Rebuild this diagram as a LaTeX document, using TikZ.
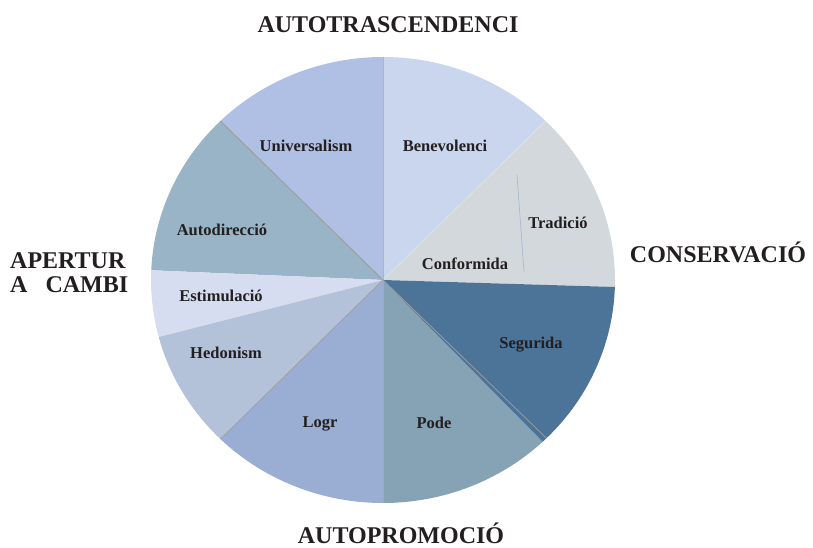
\documentclass[tikz,border=0pt]{standalone}
\usepackage{fontspec}
\setmainfont{Liberation Serif}
\definecolor{cUni}{RGB}{175,192,228}
\definecolor{cBen}{RGB}{201,214,238}
\definecolor{cTra}{RGB}{211,216,220}
\definecolor{cSeg}{RGB}{76,115,152}
\definecolor{cPod}{RGB}{133,163,181}
\definecolor{cLog}{RGB}{154,173,210}
\definecolor{cHed}{RGB}{179,193,217}
\definecolor{cEst}{RGB}{214,221,240}
\definecolor{cAut}{RGB}{152,180,198}
\definecolor{cTxt}{RGB}{35,31,32}
\definecolor{cThin}{RGB}{165,182,210}
\newcommand\mypieslice[3]{\fill[#3] (c) -- ++(#1:232 and 223) arc[start angle=#1, end angle=#2, x radius=232, y radius=223] -- cycle;}
\begin{document}
\begin{tikzpicture}[x=1pt,y=1pt,
  sep/.style={draw=gray!75, line width=0.7pt},
  lightsep/.style={draw=white!80!gray, line width=0.6pt},
  lab/.style={font=\fontsize{16.5}{18}\selectfont\bfseries, text=cTxt, inner sep=0pt, anchor=base},
  head/.style={font=\fontsize{24}{26}\selectfont\bfseries, text=cTxt, inner sep=0pt, anchor=base}]
\useasboundingbox (0,0) rectangle (813,547);
\coordinate (c) at (383,267);
\mypieslice{-1.8}{45.5}{cTra}
\mypieslice{45.5}{90}{cBen}
\mypieslice{90}{134.5}{cUni}
\mypieslice{134.5}{177.5}{cAut}
\mypieslice{177.5}{194.8}{cEst}
\mypieslice{194.8}{225.5}{cHed}
\mypieslice{225.5}{270}{cLog}
\mypieslice{270}{313.5}{cPod}
\mypieslice{313.5}{358.2}{cSeg}
% separators
\path (c) ++(45.5:232 and 223) coordinate (e45);
\path (c) ++(90:232 and 223) coordinate (e90);
\path (c) ++(134.5:232 and 223) coordinate (e135);
\path (c) ++(225.5:232 and 223) coordinate (e225);
\path (c) ++(270:232 and 223) coordinate (e270);
\path (c) ++(314.8:232 and 223) coordinate (e315);
\draw[lightsep] (c) -- (e45);
\draw[draw=cThin, line width=0.6pt] (c) -- (e90);
\draw[sep, line width=1pt] (c) -- (e135);
\draw[sep] (c) -- (e225);
\draw[draw=cLog!80!cPod, line width=0.6pt] (c) -- (e270);
\draw[sep] (c) -- (e315);
\coordinate (t1) at (517,372);
\coordinate (t2) at (524,275);
\draw[draw=cThin, line width=0.6pt] (t1) -- (t2);
% slice labels
\node[lab] (uni) at (306,395) {Universalism};
\node[lab] (ben) at (445,395) {Benevolenci};
\node[lab] (tra) at (558,319) {Tradició};
\node[lab] (con) at (465,278) {Conformida};
\node[lab] (seg) at (531,199) {Segurida};
\node[lab] (pod) at (434,119) {Pode};
\node[lab] (log) at (320,120) {Logr};
\node[lab] (hed) at (226,189) {Hedonism};
\node[lab] (est) at (221,246) {Estimulació};
\node[lab] (aut) at (222,312) {Autodirecció};
% headings
\node[head] (top) at (388,514) {AUTOTRASCENDENCI};
\node[head] (right) at (718,285) {CONSERVACIÓ};
\node[head] (bottom) at (401,4) {AUTOPROMOCIÓ};
\node[head, anchor=base west] (left1) at (10,279) {APERTUR};
\node[head, anchor=base west] (left2) at (10,255) {A\hspace{18pt}CAMBI};
\end{tikzpicture}
\end{document}
